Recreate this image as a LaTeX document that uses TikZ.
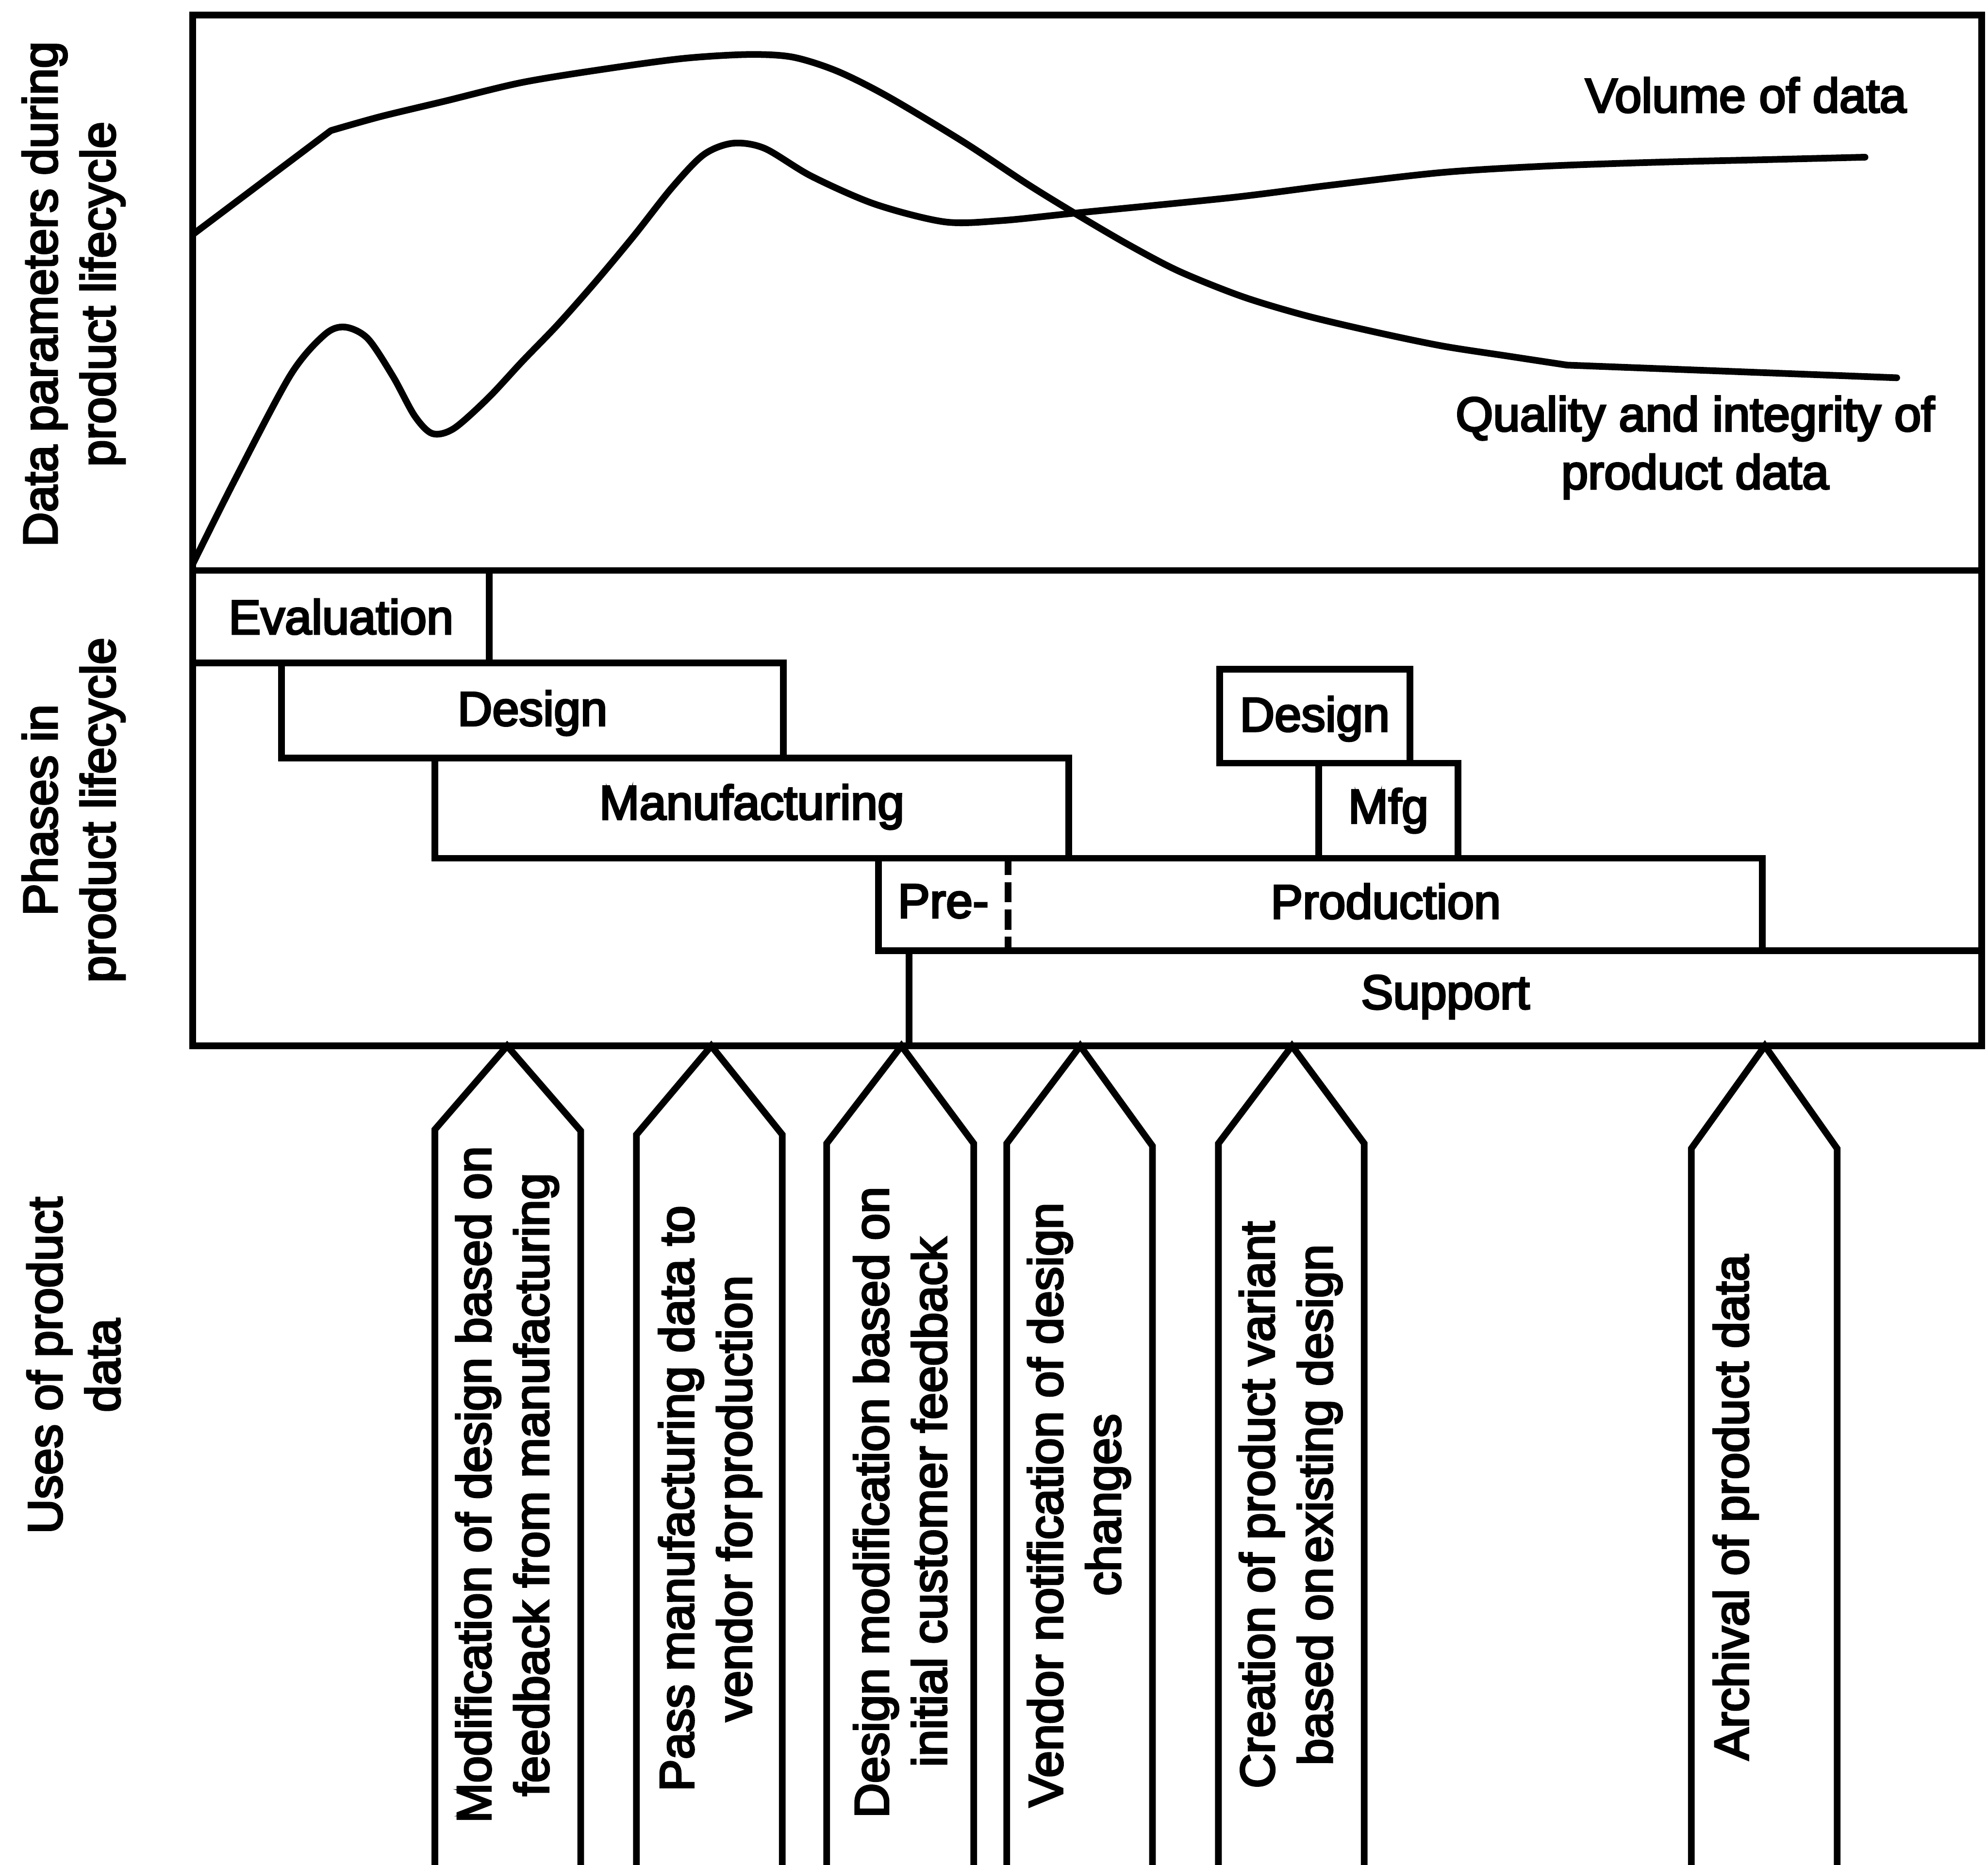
\documentclass[tikz,border=0pt]{standalone}
\usepackage{fontspec}
\setmainfont{Liberation Sans}[FakeBold=4]
\usetikzlibrary{fit}

\begin{document}
\begin{tikzpicture}[x=0.1mm, y=-0.1mm,
  font=\fontsize{10.8}{13}\selectfont,
  curve/.style={line width=1.5pt, line join=round, line cap=round},
  box/.style={draw, line width=1.5pt, inner sep=0pt},
  txt/.style={inner sep=0pt, align=center},
  usebox/.style={line width=1.5pt, line join=miter},
  divider/.style={line width=1.5pt, dash pattern=on 4.55pt off 1.56pt}]

\useasboundingbox (0,0) rectangle (1568,1471);

% panels: data curves on top, lifecycle phases below
\node[box, fit={(152,12) (1563,450)}] (chart) {};
\node[box, fit={(152,450) (1563,825)}] (phases) {};

% curve: quality and integrity of product data
\draw[curve] (152,185) -- plot[smooth, tension=0.5] coordinates {
  (261,103) (300,92) (350,80) (412,65) (480,54) (540,46) (590,43)
  (625,45) (660,56) (700,76) (760,112) (810,145) (849,169) (890,193)
  (930,214) (980,234) (1030,249) (1085,262) (1138,273) (1190,281) (1236,288)}
  -- (1496,298);

% curve: volume of data
\draw[curve] plot[smooth, tension=0.5] coordinates {
  (152,445) (185,379) (229,296) (256,264) (272,258) (290,267) (310,297)
  (327,328) (341,342) (358,338) (385,314) (412,285) (440,256) (470,222)
  (500,186) (530,148) (555,122) (578,113) (603,117) (640,139) (690,161)
  (745,175) (790,174) (849,168) (970,156) (1050,146) (1138,136) (1220,131)
  (1306,128) (1390,126) (1471,124)};

\node[txt] (vol) at (1377,75) {Volume of data};
\node[txt] (qual) at (1337,353) {Quality and integrity of\\product data};

% lifecycle phases
\node[box, fit={(152,450) (386,523)}] (eval) {};
\node[box, fit={(222,523) (618,598)}] (des1) {};
\node[box, fit={(343,598) (843,677)}] (mfg1) {};
\node[box, fit={(693,677) (1390,750)}] (prod) {};
\node[box, fit={(717,750) (1563,825)}] (supp) {};
\node[box, fit={(962,528) (1112,602)}] (des2) {};
\node[box, fit={(1040,602) (1150,677)}] (mfg2) {};
\coordinate (cut) at (795,700);
\draw[divider] (prod.north -| cut) -- (prod.south -| cut);

\node[txt] (evalt) at (eval.center) {Evaluation};
\node[txt] (des1t) at ([yshift=-0.2mm]des1.center) {Design};
\node[txt] (mfg1t) at ([yshift=0.1mm]mfg1.center) {Manufacturing};
\node[txt] (pre) at (744,711) {Pre-};
\node[txt] (production) at (1093,711) {Production};
\node[txt] (suppt) at ([yshift=0.1mm]supp.center) {Support};
\node[txt] (des2t) at ([yshift=-0.2mm]des2.center) {Design};
\node[txt] (mfg2t) at (mfg2.center) {Mfg};

% axis labels
\node[txt, rotate=90] (lab1) at (58,232) {Data parameters during\\product lifecycle};
\node[txt, rotate=90] (lab2) at (58,639) {Phases in\\product lifecycle};
\node[txt, rotate=90] (lab3) at (58,1077) {Uses of product\\data};

% uses of product data: pointers into the phase panel
\coordinate (t1) at (400,825);
\coordinate (t2) at (561,825);
\coordinate (t3) at (711,825);
\coordinate (t4) at (852,825);
\coordinate (t5) at (1019,825);
\coordinate (t6) at (1392,825);

\draw[usebox] (343,1490) -- (343,891) -- (t1) -- (458,892) -- (458,1490);
\draw[usebox] (502,1490) -- (502,895) -- (t2) -- (617,895) -- (617,1490);
\draw[usebox] (652,1490) -- (652,902) -- (t3) -- (768,902) -- (768,1490);
\draw[usebox] (794,1490) -- (794,902) -- (t4) -- (909,904) -- (909,1490);
\draw[usebox] (961,1490) -- (961,902) -- (t5) -- (1076,902) -- (1076,1490);
\draw[usebox] (1334,1490) -- (1334,906) -- (t6) -- (1449,906) -- (1449,1490);

\node[txt, rotate=90] (use1) at (400,1171) {Modification of design based on\\feedback from manufacturing};
\node[txt, rotate=90] (use2) at (560,1182) {Pass manufacturing data to\\vendor for\hspace{0.1em}production};
\node[txt, rotate=90] (use3) at (710,1185) {Design modification based on\\initial customer feedback};
\node[txt, rotate=90] (use4) at (851,1187) {Vendor notification of design\\changes};
\node[txt, rotate=90] (use5) at (1018,1187) {Creation of product variant\\based on\hspace{0.1em}existing design};
\node[txt, rotate=90] (use6) at (1369,1189) {Archival of product data};

\end{tikzpicture}
\end{document}
